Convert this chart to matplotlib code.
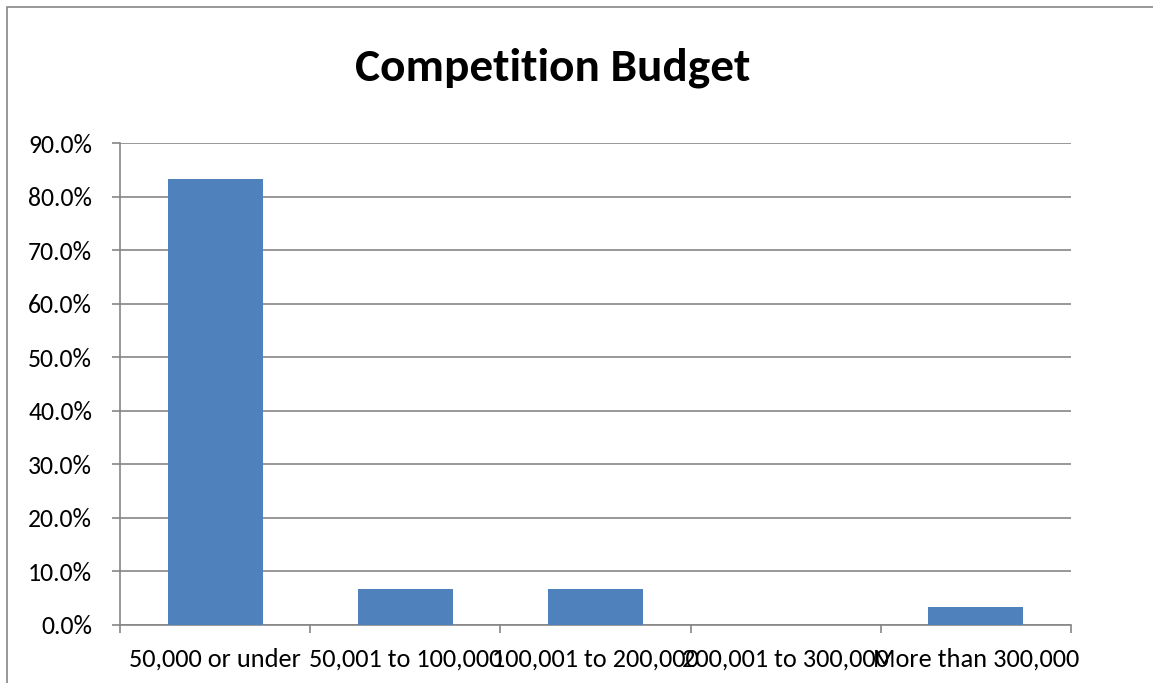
import matplotlib
matplotlib.use('Agg')
import matplotlib.pyplot as plt
from matplotlib.patches import Rectangle
from matplotlib.ticker import PercentFormatter, FixedLocator, NullFormatter
import numpy as np

categories = ['50,000 or under', '50,001 to 100,000', '100,001 to 200,000',
              '200,001 to 300,000', 'More than 300,000']
shares = [83.3, 6.7, 6.7, 0.0, 3.3]

plt.rcParams['font.family'] = ['Carlito', 'Liberation Sans', 'DejaVu Sans']

fig = plt.figure(figsize=(11.53, 6.83), dpi=100)
ax = fig.add_axes([120 / 1153, 1 - 625 / 683, (1071 - 120) / 1153, (625 - 143) / 683])

x = np.arange(len(categories))
ax.bar(x, shares, width=0.5, color='#4F81BD', zorder=3)

ax.set_xlim(-0.5, len(categories) - 0.5)
ax.set_ylim(0, 90)
ax.set_yticks(np.arange(0, 91, 10))
ax.yaxis.set_major_formatter(PercentFormatter(decimals=1))
ax.grid(axis='y', color='#868686', linewidth=1.2, zorder=0)

# category labels in the middle, tick marks on the boundaries
ax.set_xticks(x)
ax.set_xticklabels(categories)
ax.tick_params(axis='x', which='major', length=0, pad=16, labelsize=19)
ax.xaxis.set_minor_locator(FixedLocator(np.arange(-0.5, len(categories), 1)))
ax.xaxis.set_minor_formatter(NullFormatter())
ax.tick_params(axis='x', which='minor', length=6, width=1.2, color='#868686')
ax.tick_params(axis='y', length=6, width=1.2, color='#868686', labelsize=18.5, pad=14)

for side in ('top', 'right'):
    ax.spines[side].set_visible(False)
for side in ('left', 'bottom'):
    ax.spines[side].set_color('#868686')
    ax.spines[side].set_linewidth(1.2)

fig.text(553 / 1153, 1 - 68 / 683, 'Competition Budget', ha='center', va='center',
         fontsize=34, fontweight='bold')

# outer chart frame
fig.patches.append(Rectangle((7 / 1153, -0.1), 1.2, 1 - 7 / 683 + 0.1,
                             transform=fig.transFigure, fill=False,
                             edgecolor='#868686', linewidth=1.2))

fig.savefig('out.png', dpi=100)
